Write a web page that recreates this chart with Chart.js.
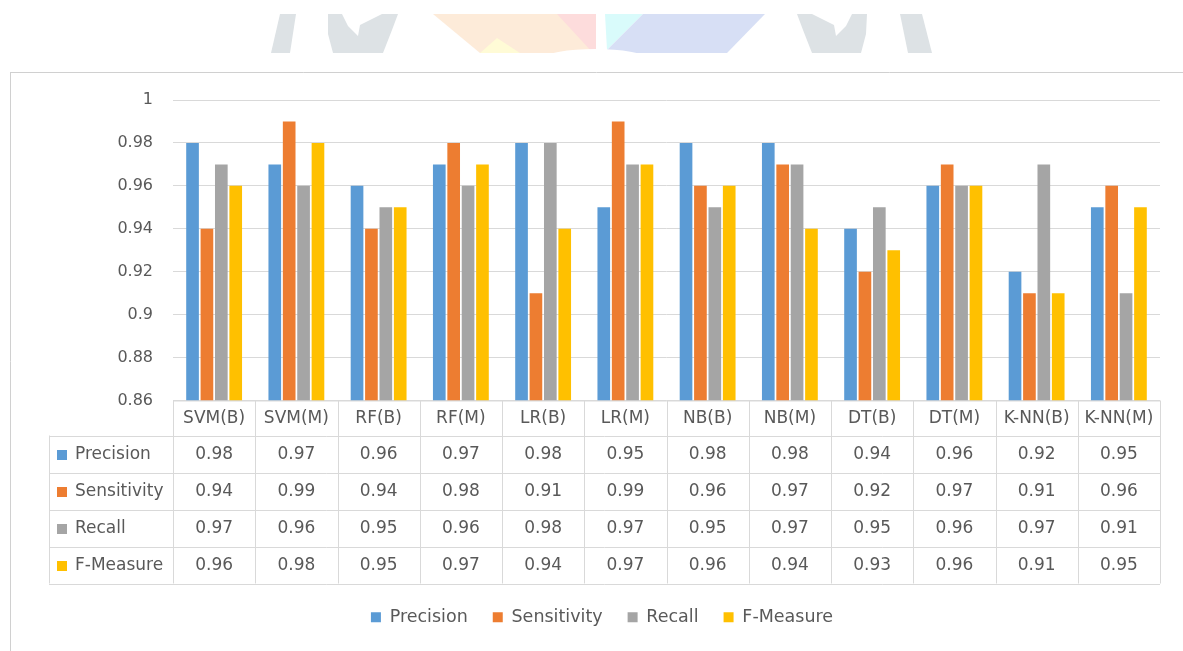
<!DOCTYPE html>
<html>
<head>
<meta charset="utf-8">
<script src="https://cdn.jsdelivr.net/npm/chart.js@4"></script>
<style>
  html, body { margin: 0; padding: 0; background: #fff; }
  #wrap { position: relative; width: 1183px; height: 651px; }
</style>
</head>
<body>
<div id="wrap"><canvas id="perf-chart"></canvas></div>
<script>
var categories = ["SVM(B)", "SVM(M)", "RF(B)", "RF(M)", "LR(B)", "LR(M)", "NB(B)", "NB(M)", "DT(B)", "DT(M)", "K-NN(B)", "K-NN(M)"];
var precision   = [0.98, 0.97, 0.96, 0.97, 0.98, 0.95, 0.98, 0.98, 0.94, 0.96, 0.92, 0.95];
var sensitivity = [0.94, 0.99, 0.94, 0.98, 0.91, 0.99, 0.96, 0.97, 0.92, 0.97, 0.91, 0.96];
var recall      = [0.97, 0.96, 0.95, 0.96, 0.98, 0.97, 0.95, 0.97, 0.95, 0.96, 0.97, 0.91];
var fMeasure    = [0.96, 0.98, 0.95, 0.97, 0.94, 0.97, 0.96, 0.94, 0.93, 0.96, 0.91, 0.95];
var seriesNames = ["Precision", "Sensitivity", "Recall", "F-Measure"];
var seriesColors = ["#5B9BD5", "#ED7D31", "#A5A5A5", "#FFC000"];
var yTicks = [0.86, 0.88, 0.9, 0.92, 0.94, 0.96, 0.98, 1];

var TEXT = "#595959";
var LINE = "#d9d9d9";
var FONT = "DejaVu Sans";

Chart.defaults.font.family = FONT;
Chart.defaults.color = TEXT;

function poly(ctx, color, pts) {
  ctx.fillStyle = color;
  ctx.beginPath();
  ctx.moveTo(pts[0][0], pts[0][1]);
  for (var i = 1; i < pts.length; i++) ctx.lineTo(pts[i][0], pts[i][1]);
  ctx.closePath();
  ctx.fill();
}

// page background, faint watermark at top and the outer chart frame
var backdrop = {
  id: "backdrop",
  beforeDraw: function (chart) {
    var ctx = chart.ctx;
    ctx.save();
    ctx.fillStyle = "#fff";
    ctx.fillRect(0, 0, chart.width, chart.height);

    var g = "#dde2e5";
    poly(ctx, g, [[280, 14], [296, 14], [290, 53], [271, 53]]);
    poly(ctx, g, [[328, 14], [342, 14], [348, 26], [358, 36], [360, 25], [382, 14], [398, 14], [392, 30], [383, 53], [333, 53], [328, 34]]);
    poly(ctx, "#fdebd9", [[433, 14], [593, 14], [593, 53], [480, 53]]);
    poly(ctx, "#fddcdc", [[557, 14], [596, 14], [596, 53], [593, 53]]);
    poly(ctx, "#fffbd6", [[497, 38], [520, 53], [480, 53]]);
    poly(ctx, "#d9fbfb", [[605, 14], [643, 14], [607, 50]]);
    poly(ctx, "#d7dff5", [[643, 14], [765, 14], [727, 53], [612, 53], [607, 50]]);
    ctx.fillStyle = "#fff";
    ctx.beginPath();
    ctx.ellipse(595, 58, 50, 9, 0, 0, Math.PI * 2);
    ctx.fill();
    poly(ctx, g, [[797, 14], [812, 14], [834, 25], [836, 36], [846, 26], [852, 14], [867, 14], [866, 34], [861, 53], [812, 53], [803, 30]]);
    poly(ctx, g, [[900, 14], [922, 14], [932, 53], [908, 53]]);

    ctx.strokeStyle = "#d0d0d0";
    ctx.lineWidth = 1;
    ctx.beginPath();
    ctx.moveTo(10, 72.5);
    ctx.lineTo(chart.width, 72.5);
    ctx.moveTo(10.5, 72);
    ctx.lineTo(10.5, chart.height);
    ctx.stroke();
    ctx.restore();
  }
};

// Excel style data table under the plot, aligned with the category scale
var dataTable = {
  id: "dataTable",
  afterDraw: function (chart) {
    var ctx = chart.ctx;
    var area = chart.chartArea;
    var xs = chart.scales.x;
    var catW = (area.right - area.left) / categories.length;
    var top = area.bottom;
    var headH = 35, rowH = 37;
    var labelLeft = 49;
    var bottom = top + headH + rowH * seriesNames.length;

    ctx.save();
    ctx.strokeStyle = LINE;
    ctx.lineWidth = 1;
    ctx.beginPath();
    ctx.moveTo(area.left, top + 0.5);
    ctx.lineTo(area.right, top + 0.5);
    for (var r = 0; r <= seriesNames.length; r++) {
      var y = Math.round(top + headH + r * rowH) + 0.5;
      ctx.moveTo(labelLeft, y);
      ctx.lineTo(area.right, y);
    }
    ctx.moveTo(labelLeft + 0.5, top + headH);
    ctx.lineTo(labelLeft + 0.5, bottom);
    for (var c = 0; c <= categories.length; c++) {
      var x = Math.round(area.left + c * catW) + 0.5;
      ctx.moveTo(x, top);
      ctx.lineTo(x, bottom);
    }
    ctx.stroke();

    ctx.fillStyle = TEXT;
    ctx.font = "17px '" + FONT + "'";
    ctx.textAlign = "center";
    ctx.textBaseline = "middle";
    categories.forEach(function (name, i) {
      ctx.fillText(name, xs.getPixelForValue(i), top + headH / 2 + 1);
    });

    chart.data.datasets.forEach(function (ds, r) {
      var cy = top + headH + r * rowH + rowH / 2 + 1;
      ctx.fillStyle = ds.backgroundColor;
      ctx.fillRect(57, Math.round(cy - 5), 10, 10);
      ctx.fillStyle = TEXT;
      ctx.textAlign = "left";
      ctx.fillText(ds.label, 75, cy);
      ctx.textAlign = "center";
      ds.data.forEach(function (v, i) {
        ctx.fillText(v.toFixed(2), xs.getPixelForValue(i), cy);
      });
    });
    ctx.restore();
  }
};

var seriesData = [precision, sensitivity, recall, fMeasure];

var ctx = document.getElementById("perf-chart").getContext("2d");
var chart = new Chart(ctx, {
  type: "bar",
  data: {
    labels: categories,
    datasets: seriesNames.map(function (name, i) {
      return {
        label: name,
        data: seriesData[i],
        backgroundColor: seriesColors[i],
        borderWidth: 0,
        categoryPercentage: 0.7,
        barPercentage: 0.88
      };
    })
  },
  options: {
    responsive: true,
    maintainAspectRatio: false,
    animation: false,
    layout: {
      // left padding only shifts the centred legend; the y axis width makes up the rest
      padding: { top: 100, left: 44, right: 23, bottom: 15 }
    },
    scales: {
      x: {
        ticks: { display: false },
        grid: { display: false },
        border: { display: false },
        afterFit: function (scale) { scale.height = 183; }
      },
      y: {
        min: 0.86,
        max: 1,
        afterBuildTicks: function (scale) {
          scale.ticks = yTicks.map(function (v) { return { value: v }; });
        },
        afterFit: function (scale) { scale.width = 129; },
        ticks: {
          padding: 20,
          color: TEXT,
          font: { size: 16 },
          callback: function (v) { return String(parseFloat(v.toFixed(2))); }
        },
        grid: { color: LINE, drawTicks: false },
        border: { display: false }
      }
    },
    plugins: {
      legend: {
        position: "bottom",
        labels: {
          boxWidth: 10,
          boxHeight: 10,
          padding: 25,
          color: TEXT,
          font: { size: 17.5 }
        }
      },
      tooltip: { enabled: false }
    }
  },
  plugins: [backdrop, dataTable]
});
</script>
</body>
</html>
